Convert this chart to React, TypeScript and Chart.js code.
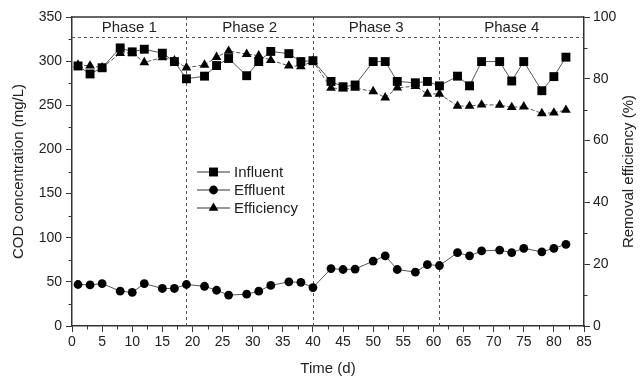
import React, { useEffect, useRef } from 'react';
import { Chart, registerables } from 'chart.js';

Chart.register(...registerables);

const days = [1, 3, 5, 8, 10, 12, 15, 17, 19, 22, 24, 26, 29, 31, 33, 36, 38, 40, 43, 45, 47, 50, 52, 54, 57, 59, 61, 64, 66, 68, 71, 73, 75, 78, 80, 82];
const influent = [294.5, 285.5, 292.5, 315, 310.5, 313.5, 309, 299.5, 280, 283, 295, 303, 283.5, 299.5, 311, 308.5, 299.5, 300.5, 277, 271, 273, 299.5, 299.5, 277, 275.5, 277, 272, 283, 272, 299.5, 299.5, 277.5, 299.5, 266.5, 282.5, 304.5];
const effluent = [47, 46.5, 48, 39.5, 38, 48, 42.5, 42.5, 47, 45, 40.5, 35, 36, 39.5, 46, 50, 49.5, 43.5, 65, 64, 64.5, 73.5, 79.5, 64, 61, 69.5, 68.5, 83, 79.5, 85, 86, 83, 88, 84, 88, 92.5];
const efficiency = [84.5, 84.2, 83.6, 88.3, 88.4, 85.3, 86.9, 85.9, 83.6, 84.5, 87, 89, 88, 87.5, 86, 84.2, 84, 85.7, 77, 76.8, 77, 75.9, 73.9, 77.1, 77.6, 75.1, 75.1, 71.2, 71.2, 71.6, 71.5, 70.8, 71, 68.8, 69, 69.9];

const seriesNames = ['Influent', 'Effluent', 'Efficiency'];
const phaseBoundaries = [19, 40, 61];
const phaseLabels = ['Phase 1', 'Phase 2', 'Phase 3', 'Phase 4'];
const phaseLineLevel = 327;

const xTitle = 'Time (d)';
const yTitle = 'COD concentration (mg/L)';
const y2Title = 'Removal efficiency (%)';

const FONT = "'Liberation Sans', Arial, Helvetica, sans-serif";
const AXIS = '#333333';
const TEXT = '#222222';

const overlayPlugin = {
  id: 'overlay',
  beforeDatasetsDraw(chart: any) {
    const { ctx, chartArea, scales } = chart;
    const x = scales.x, y = scales.y;
    ctx.save();
    ctx.strokeStyle = '#555';
    ctx.lineWidth = 1;
    ctx.setLineDash([3, 3]);
    phaseBoundaries.forEach((d) => {
      const px = Math.round(x.getPixelForValue(d)) + 0.5;
      ctx.beginPath();
      ctx.moveTo(px, chartArea.top);
      ctx.lineTo(px, chartArea.bottom);
      ctx.stroke();
    });
    const py = Math.round(y.getPixelForValue(phaseLineLevel)) + 0.5;
    ctx.beginPath();
    ctx.moveTo(chartArea.left, py);
    ctx.lineTo(chartArea.right, py);
    ctx.stroke();
    ctx.setLineDash([]);
    const bounds = [x.min, ...phaseBoundaries, x.max];
    ctx.fillStyle = TEXT;
    ctx.font = `15px ${FONT}`;
    ctx.textAlign = 'center';
    ctx.textBaseline = 'middle';
    const ty = (chartArea.top + py) / 2 + 1;
    phaseLabels.forEach((lab, i) => {
      const cx = (x.getPixelForValue(bounds[i]) + x.getPixelForValue(bounds[i + 1])) / 2;
      ctx.fillText(lab, cx, ty);
    });
    ctx.restore();
  },
  afterDraw(chart: any) {
    const { ctx, chartArea, scales } = chart;
    ctx.save();
    ctx.strokeStyle = AXIS;
    ctx.lineWidth = 1.5;
    ctx.beginPath();
    ctx.moveTo(chartArea.left, chartArea.top);
    ctx.lineTo(chartArea.right, chartArea.top);
    ctx.stroke();
    ctx.lineWidth = 1;
    const minor = (scale: any, step: number, side: string) => {
      for (let v = scale.min + step / 2; v < scale.max; v += step) {
        const p = Math.round(scale.getPixelForValue(v)) + 0.5;
        ctx.beginPath();
        if (side === 'bottom') { ctx.moveTo(p, chartArea.bottom); ctx.lineTo(p, chartArea.bottom + 3.5); }
        if (side === 'left') { ctx.moveTo(chartArea.left, p); ctx.lineTo(chartArea.left - 3.5, p); }
        if (side === 'right') { ctx.moveTo(chartArea.right, p); ctx.lineTo(chartArea.right + 3.5, p); }
        ctx.stroke();
      }
    };
    minor(scales.x, 5, 'bottom');
    minor(scales.y, 50, 'left');
    minor(scales.y2, 20, 'right');
    ctx.fillStyle = TEXT;
    ctx.font = `15px ${FONT}`;
    ctx.textAlign = 'center';
    ctx.textBaseline = 'middle';
    ctx.translate(629, (chartArea.top + chartArea.bottom) / 2);
    ctx.rotate(-Math.PI / 2);
    ctx.fillText(y2Title, 0, 0);
    ctx.restore();

    ctx.save();
    const lx = chartArea.left + 125;
    const rows = [chartArea.top + 155, chartArea.top + 173, chartArea.top + 191];
    chart.data.datasets.forEach((ds: any, i: number) => {
      const ry = rows[i];
      ctx.strokeStyle = AXIS;
      ctx.lineWidth = 1.2;
      ctx.beginPath();
      ctx.moveTo(lx, ry);
      ctx.lineTo(lx + 33, ry);
      ctx.stroke();
      ctx.fillStyle = '#000';
      const cx = lx + 16.5;
      const r = ds.pointRadius;
      ctx.beginPath();
      if (ds.pointStyle === 'rect') {
        const s = Math.SQRT1_2 * r;
        ctx.rect(cx - s, ry - s, 2 * s, 2 * s);
      } else if (ds.pointStyle === 'circle') {
        ctx.arc(cx, ry, r, 0, Math.PI * 2);
      } else {
        ctx.moveTo(cx, ry - r);
        ctx.lineTo(cx + r * 0.866, ry + r / 2);
        ctx.lineTo(cx - r * 0.866, ry + r / 2);
        ctx.closePath();
      }
      ctx.fill();
      ctx.fillStyle = TEXT;
      ctx.font = `15px ${FONT}`;
      ctx.textAlign = 'left';
      ctx.textBaseline = 'middle';
      ctx.fillText(ds.label, lx + 37, ry + 1);
    });
    ctx.restore();
  },
};

export default function App() {
  const ref = useRef<HTMLCanvasElement>(null);
  useEffect(() => {
    if (!ref.current) return;
    const mk = (vals: number[]) => days.map((d, i) => ({ x: d, y: vals[i] }));
    const chart = new Chart(ref.current, {
      type: 'line',
      data: {
        datasets: [
          {
            label: seriesNames[0], data: mk(influent), yAxisID: 'y',
            borderColor: '#555', borderWidth: 1, pointStyle: 'rect', pointRadius: 6.3,
            pointBackgroundColor: '#000', pointBorderColor: '#000', pointBorderWidth: 0,
          },
          {
            label: seriesNames[1], data: mk(effluent), yAxisID: 'y',
            borderColor: '#555', borderWidth: 1, pointStyle: 'circle', pointRadius: 4.4,
            pointBackgroundColor: '#000', pointBorderColor: '#000', pointBorderWidth: 0,
          },
          {
            label: seriesNames[2], data: mk(efficiency), yAxisID: 'y2',
            borderColor: '#555', borderWidth: 1, borderDash: [4, 2], pointStyle: 'triangle', pointRadius: 5.6,
            pointBackgroundColor: '#000', pointBorderColor: '#000', pointBorderWidth: 0,
          },
        ] as any,
      },
      options: {
        animation: false,
        responsive: false,
        devicePixelRatio: 1,
        layout: { padding: { top: 17, left: 0, right: 0, bottom: 0 } },
        plugins: { legend: { display: false }, tooltip: { enabled: false } },
        elements: { line: { tension: 0 } },
        scales: {
          x: {
            type: 'linear', min: 0, max: 85,
            ticks: { stepSize: 5, color: TEXT, font: { family: FONT, size: 14 }, padding: 2, maxRotation: 0 },
            grid: { drawOnChartArea: false, drawTicks: true, tickLength: 6, color: AXIS, tickWidth: 1 },
            border: { color: AXIS, width: 1.5 },
            title: { display: true, text: xTitle, color: TEXT, font: { family: FONT, size: 15 }, padding: { top: 0, bottom: 2 } },
            afterFit: (s: any) => { s.height = 54; },
          },
          y: {
            type: 'linear', position: 'left', min: 0, max: 350,
            ticks: { stepSize: 50, color: TEXT, font: { family: FONT, size: 14 }, padding: 4 },
            grid: { drawOnChartArea: false, drawTicks: true, tickLength: 6, color: AXIS, tickWidth: 1 },
            border: { color: AXIS, width: 1.5 },
            title: { display: true, text: yTitle, color: TEXT, font: { family: FONT, size: 15 }, padding: { top: 10, bottom: 0 } },
            afterFit: (s: any) => { s.width = 72; },
          },
          y2: {
            type: 'linear', position: 'right', min: 0, max: 100,
            ticks: { stepSize: 20, color: TEXT, font: { family: FONT, size: 14 }, padding: 3 },
            grid: { drawOnChartArea: false, drawTicks: true, tickLength: 6, color: AXIS, tickWidth: 1 },
            border: { color: AXIS, width: 1.5 },
            afterFit: (s: any) => { s.width = 57; },
          },
        },
      } as any,
      plugins: [overlayPlugin],
    });
    return () => chart.destroy();
  }, []);
  return (
    <div style={{ position: 'fixed', left: 0, top: 0, width: 641, height: 380, background: '#fff' }}>
      <canvas ref={ref} width={641} height={380} style={{ width: 641, height: 380, display: 'block' }} />
    </div>
  );
}
